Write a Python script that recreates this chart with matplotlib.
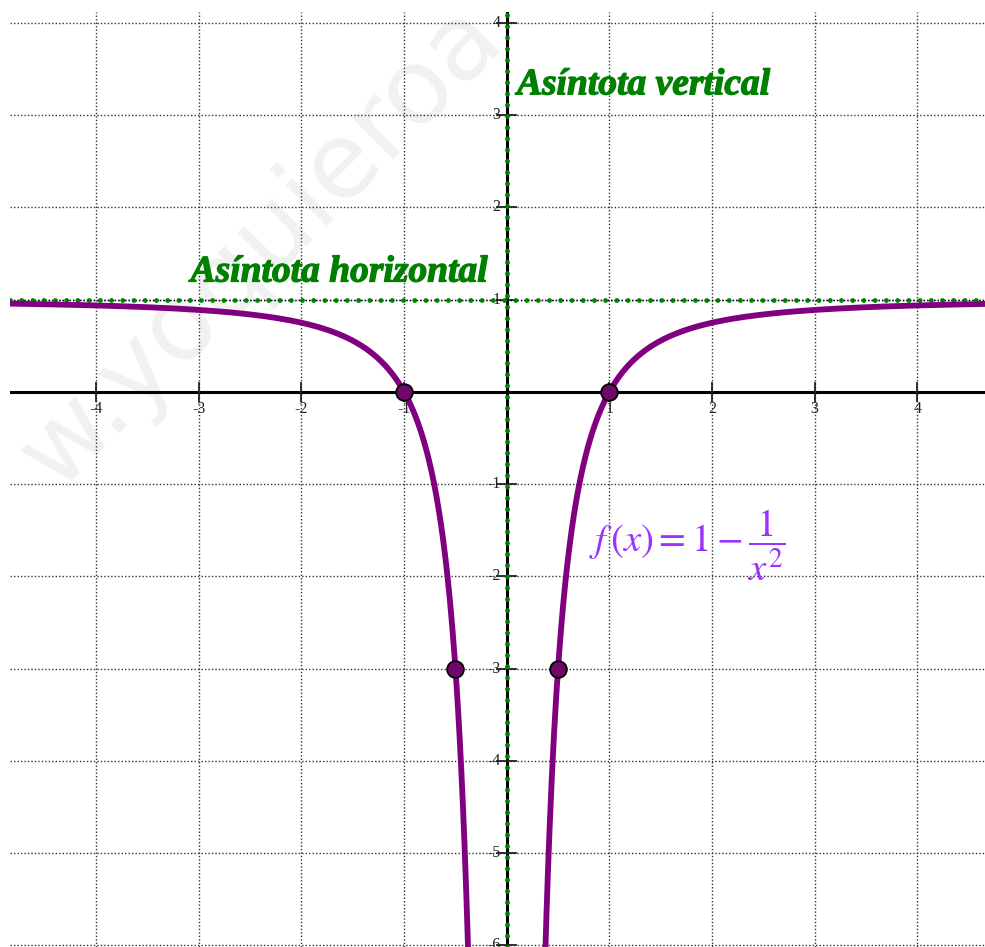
import matplotlib.pyplot as plt
import matplotlib.patheffects as pe
import numpy as np

# Function f(x) = 1 - 1/x^2
x_ticks = [-4, -3, -2, -1, 1, 2, 3, 4]
y_ticks = [-6, -5, -4, -3, -2, -1, 1, 2, 3, 4]
marked_x = [-1, 1, -0.5, 0.5]
marked_y = [0, 0, -3, -3]
h_asym = 1
v_asym = 0

xmin, xmax = -4.84, 4.66
ymin, ymax = -6.02, 4.12

curve_color = "#800080"
asym_color = "#008000"
label_color = "#9b30ff"

plt.rcParams["mathtext.fontset"] = "stix"

fig = plt.figure(figsize=(9.85, 9.47), dpi=100)
ax = fig.add_axes([10 / 985, 0, 975 / 985, 935 / 947])
ax.set_xlim(xmin, xmax)
ax.set_ylim(ymin, ymax)
for s in ax.spines.values():
    s.set_visible(False)
ax.set_xticks([])
ax.set_yticks([])

# watermark (faint, behind everything)
ax.text(0.265, 0.74, "w.yoquieroa", transform=fig.transFigure, fontsize=76,
        color="#f1f1f1", rotation=45, ha="center", va="center",
        family="DejaVu Sans", zorder=0)

# grid
for gx in range(-4, 5):
    ax.axvline(gx, color="#333333", lw=1.0, ls=(0, (1, 1.5)), zorder=1)
for gy in range(-6, 5):
    ax.axhline(gy, color="#333333", lw=1.0, ls=(0, (1, 1.5)), zorder=1)

# axes
ax.axhline(0, color="black", lw=2.2, zorder=2)
ax.axvline(0, color="black", lw=2.2, zorder=2)

# tick marks and labels
for t in x_ticks:
    ax.plot([t, t], [-0.1, 0.1], color="#222222", lw=1.3, zorder=2)
    ax.text(t, -0.1, str(t), ha="center", va="top", fontsize=11.5,
            family="Liberation Serif", color="#222222")
for t in y_ticks:
    ax.plot([-0.09, 0.09], [t, t], color="#222222", lw=1.3, zorder=2)
    ax.text(-0.06, t, str(t), ha="right", va="center", fontsize=11.5,
            family="Liberation Serif", color="#222222")

# asymptotes
ax.axhline(h_asym, color="black", lw=1.0, ls=(0, (1, 1.5)), zorder=3)
ax.axhline(h_asym, color=asym_color, lw=3.5, ls=(0, (0.01, 2.3)),
           dash_capstyle="round", zorder=3)
ax.axvline(v_asym, color=asym_color, lw=3.5, ls=(0, (0.01, 2.3)),
           dash_capstyle="round", zorder=3)

# curve
xs = np.linspace(xmin, -0.3, 600)
ax.plot(xs, 1 - 1 / xs**2, color=curve_color, lw=4.2, zorder=4)
xs = np.linspace(0.3, xmax, 600)
ax.plot(xs, 1 - 1 / xs**2, color=curve_color, lw=4.2, zorder=4)

# points
ax.plot(marked_x, marked_y, "o", ms=12, mfc="#70086a", mec="black", mew=1.3, zorder=5)

# labels
thick = [pe.withStroke(linewidth=0.9, foreground=asym_color)]
ax.text(0.1, 3.33, "Asíntota vertical", color=asym_color, fontsize=27,
        family="Liberation Serif", fontweight="bold", style="italic",
        ha="left", va="center", zorder=6, path_effects=thick)
ax.text(-3.08, 1.3, "Asíntota horizontal", color=asym_color, fontsize=27,
        family="Liberation Serif", fontweight="bold", style="italic",
        ha="left", va="center", zorder=6, path_effects=thick)
ax.text(0.8, -1.66, r"$f\,\left(x\right) = 1 - \dfrac{1}{x^2}$", color=label_color,
        fontsize=28, ha="left", va="center", zorder=6)

fig.savefig("out.png", dpi=100)
